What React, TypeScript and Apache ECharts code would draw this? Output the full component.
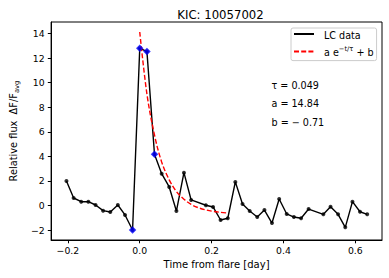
import React, { useEffect, useRef } from "react";
import * as echarts from "echarts";

const TITLE = "KIC: 10057002";
const times = [
  -0.204, -0.184, -0.163, -0.143, -0.123, -0.102, -0.082, -0.061, -0.041, -0.02,
  0.0, 0.02, 0.041, 0.061, 0.082, 0.102, 0.123, 0.143, 0.184, 0.204,
  0.225, 0.245, 0.266, 0.286, 0.306, 0.327, 0.347, 0.368, 0.388, 0.409,
  0.429, 0.449, 0.47, 0.511, 0.531, 0.552, 0.572, 0.592, 0.613, 0.633,
];
const flux = [
  2.0, 0.61, 0.31, 0.31, 0.04, -0.42, -0.53, 0.04, -0.77, -2.0,
  12.81, 12.53, 4.17, 2.59, 1.51, -0.45, 2.67, 0.45, 0.02, -0.12,
  -1.18, -1.04, 1.92, 0.12, -0.45, -0.94, -0.37, -1.43, 0.53, -0.69,
  -0.94, -1.04, -0.29, -0.72, -0.1, -0.72, -1.78, 0.31, -0.51, -0.72,
];
const flareTimes = [-0.02, 0.0, 0.02, 0.041];
const flareFlux = [-2.0, 12.81, 12.53, 4.17];
const fitTimes = [0.0, 0.02, 0.041, 0.061, 0.082, 0.102, 0.123, 0.143, 0.163, 0.184, 0.204, 0.225, 0.245];
const fitFlux = [14.13, 9.07, 5.74, 3.54, 2.09, 1.14, 0.51, 0.09, -0.18, -0.36, -0.48, -0.56, -0.61];
const xTicks = [-0.2, 0.0, 0.2, 0.4, 0.6];
const yTicks = [-2, 0, 2, 4, 6, 8, 10, 12, 14];
const fitParams = ["τ = 0.049", "a = 14.84", "b = − 0.71"];

const FONT = "DejaVu Sans";
const minus = (s: string) => s.replace("-", "−");

export default function App() {
  const ref = useRef<HTMLDivElement>(null);
  useEffect(() => {
    if (!ref.current) return;
    const chart = echarts.init(ref.current, undefined, { renderer: "svg" });
    const lc = times.map((t, i) => [t, flux[i]]);
    const fl = flareTimes.map((t, i) => [t, flareFlux[i]]);
    const fit = fitTimes.map((t, i) => [t, fitFlux[i]]);
    chart.setOption({
      animation: false,
      backgroundColor: "#fff",
      textStyle: { fontFamily: FONT },
      title: {
        text: TITLE,
        left: 215.5,
        textAlign: "center",
        top: 4,
        textStyle: { fontFamily: FONT, fontSize: 11.7, fontWeight: "normal", color: "#000" },
      },
      grid: {
        left: 47,
        top: 22,
        right: 7,
        bottom: 38,
        show: true,
        borderColor: "#000",
        borderWidth: 1,
      },
      legend: {
        orient: "vertical",
        left: 291,
        top: 28,
        padding: [2, 3, 3, 2],
        itemGap: 5.6,
        itemWidth: 20,
        itemHeight: 10,
        borderColor: "#ccc",
        borderWidth: 1,
        borderRadius: 2,
        itemStyle: { opacity: 0, borderWidth: 0 },
        lineStyle: { inherit: true },
        data: [{ name: "LC data" }, { name: "fit" }],
        formatter: (name: string) =>
          name === "fit" ? "{t|a e}{s|−t/τ}{t| + b}" : "{t|LC data}",
        textStyle: {
          fontFamily: FONT,
          color: "#000",
          padding: [0, 0, 0, 5],
          rich: {
            t: { fontFamily: FONT, fontSize: 9.6, lineHeight: 12, verticalAlign: "bottom", color: "#000" },
            s: { fontFamily: FONT, fontSize: 6.7, lineHeight: 12, verticalAlign: "top", color: "#000" },
          },
        },
      },
      xAxis: {
        type: "value",
        min: -0.2467,
        max: 0.6742,
        name: "Time from flare [day]",
        nameLocation: "middle",
        nameGap: 19,
        nameTextStyle: { fontFamily: FONT, fontSize: 10, color: "#000" },
        splitLine: { show: false },
        axisLine: { show: true, onZero: false, lineStyle: { color: "#000", width: 1 } },
        axisTick: { show: true, length: 3.3, customValues: xTicks, lineStyle: { color: "#000" } },
        axisLabel: {
          customValues: xTicks,
          margin: 6,
          fontFamily: FONT,
          fontSize: 9.3,
          color: "#000",
          formatter: (v: number) => minus(v.toFixed(1)),
        },
      },
      yAxis: {
        type: "value",
        min: -2.81,
        max: 14.94,
        name: "{m|Relative flux  ΔF/F}{s|avg}",
        nameLocation: "middle",
        nameRotate: 90,
        nameGap: 28,
        nameTextStyle: {
          fontFamily: FONT,
          color: "#000",
          rich: {
            m: { fontFamily: FONT, fontSize: 9.8, lineHeight: 12, verticalAlign: "top", color: "#000" },
            s: { fontFamily: FONT, fontSize: 6.8, lineHeight: 12, verticalAlign: "bottom", color: "#000" },
          },
        },
        splitLine: { show: false },
        axisLine: { show: true, onZero: false, lineStyle: { color: "#000", width: 1 } },
        axisTick: { show: true, length: 3.3, customValues: yTicks, lineStyle: { color: "#000" } },
        axisLabel: {
          customValues: yTicks,
          margin: 6.5,
          fontFamily: FONT,
          fontSize: 9.3,
          color: "#000",
          formatter: (v: number) => minus(String(v)),
        },
      },
      graphic: fitParams.map((s, i) => ({
        type: "text",
        left: 271.5,
        top: 80 + i * 18.8,
        style: { text: s, font: `9.6px "${FONT}"`, fill: "#000" },
      })),
      series: [
        {
          name: "LC data",
          type: "line",
          data: lc,
          symbol: "none",
          color: "#000",
          lineStyle: { color: "#000", width: 1.4 },
          z: 2,
        },
        {
          name: "LC points",
          type: "scatter",
          data: lc,
          symbol: "circle",
          symbolSize: 4,
          itemStyle: { color: "#000" },
          z: 3,
        },
        {
          name: "fit",
          type: "line",
          data: fit,
          symbol: "none",
          smooth: 0.35,
          color: "#ff0000",
          lineStyle: { color: "#ff0000", width: 1.4, type: [5, 2.2] },
          z: 4,
        },
        {
          name: "flare",
          type: "scatter",
          data: fl,
          symbol: "diamond",
          symbolSize: 7.5,
          itemStyle: { color: "#0000ff" },
          z: 5,
        },
      ],
    });
    return () => chart.dispose();
  }, []);
  return (
    <div
      ref={ref}
      style={{ position: "fixed", left: 0, top: 0, width: 389, height: 278 }}
    />
  );
}
